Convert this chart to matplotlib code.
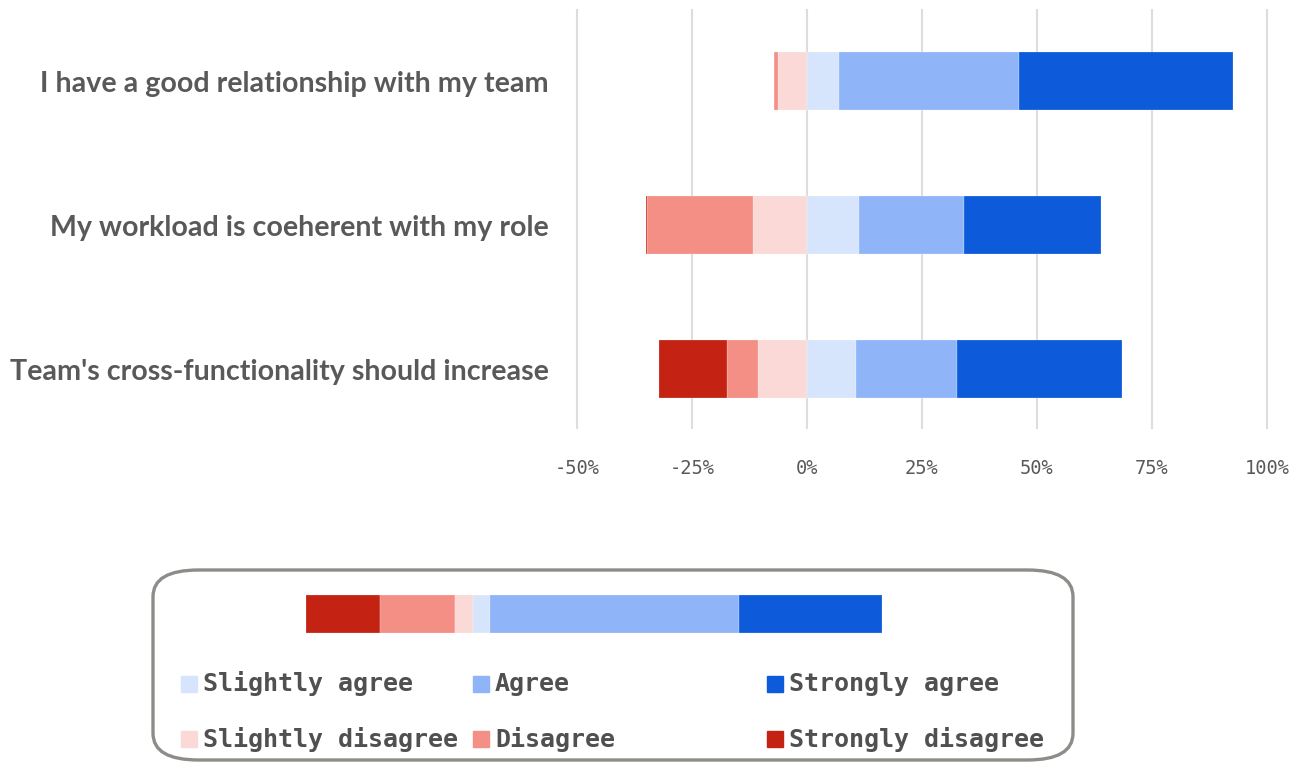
import matplotlib
matplotlib.use("Agg")
import matplotlib.pyplot as plt
from matplotlib.patches import FancyBboxPatch, Rectangle
from matplotlib.ticker import FuncFormatter

questions = [
    "I have a good relationship with my team",
    "My workload is coeherent with my role",
    "Team's cross-functionality should increase",
]
levels = ["Strongly disagree", "Disagree", "Slightly disagree",
          "Slightly agree", "Agree", "Strongly agree"]
colors = ["#C42314", "#F48F86", "#FAD9D6", "#D6E5FC", "#8FB5F8", "#0D5BDB"]

# share of answers per question (%)
strongly_disagree = [0.0, 0.4, 14.7]
disagree = [0.9, 23.0, 6.7]
slightly_disagree = [6.3, 11.7, 10.7]
slightly_agree = [6.9, 11.3, 10.7]
agree = [39.1, 22.9, 21.9]
strongly_agree = [46.5, 29.8, 35.9]

# widths of the colour key strip, same level order
key_widths = [12.9, 13.0, 3.2, 2.9, 43.2, 24.9]

ticks = [-50, -25, 0, 25, 50, 75, 100]

W, H = 1302, 762


def px(x0, y0, x1, y1):
    return [x0 / W, 1 - y1 / H, (x1 - x0) / W, (y1 - y0) / H]


fig = plt.figure(figsize=(W / 100, H / 100), dpi=100)
ax = fig.add_axes(px(567.8, 9, 1276.2, 429.5))

y = list(range(len(questions)))
neg = [slightly_disagree, disagree, strongly_disagree]
pos = [slightly_agree, agree, strongly_agree]

# disagreement stacks leftwards from zero
left = [0.0] * len(questions)
for vals, col in zip(neg, colors[2::-1]):
    ax.barh(y, [-v for v in vals], left=left, height=0.4, color=col,
            edgecolor="#ffffff80", linewidth=0.3, zorder=3)
    left = [l - v for l, v in zip(left, vals)]

# agreement stacks rightwards
left = [0.0] * len(questions)
for vals, col in zip(pos, colors[3:]):
    ax.barh(y, vals, left=left, height=0.4, color=col,
            edgecolor="#ffffff80", linewidth=0.3, zorder=3)
    left = [l + v for l, v in zip(left, vals)]

ax.set_xlim(-52, 102)
ax.set_ylim(2.42, -0.5)
ax.set_xticks(ticks)
ax.xaxis.set_major_formatter(FuncFormatter(lambda v, p: f"{v:.0f}%"))
ax.grid(axis="x", color="#dddddd", linewidth=1.5, zorder=0)
for s in ax.spines.values():
    s.set_visible(False)

ax.set_yticks(y)
ax.set_yticklabels(questions, fontsize=20.6, fontweight="bold",
                   color="#595959", family="Lato")
ax.tick_params(axis="y", length=0, pad=13.5)
ax.tick_params(axis="x", length=0, pad=21, labelsize=13.5,
               labelcolor="#595959")
for t in ax.get_xticklabels():
    t.set_family("DejaVu Sans Mono")

# legend frame
frame = FancyBboxPatch((153 / W, 1 - 760 / H), (1073 - 153) / W, 190 / H,
                       boxstyle="round,pad=0,rounding_size=0.035",
                       transform=fig.transFigure, facecolor="white",
                       edgecolor="#8c8c88", linewidth=2.4, zorder=0.5)
fig.add_artist(frame)

# colour key strip
kax = fig.add_axes(px(306, 595, 882, 633))
kax.set_zorder(2)
start = 0.0
for w, col in zip(key_widths, colors):
    kax.barh(0, w, left=start, height=1, color=col, edgecolor="#ffffff80",
             linewidth=0.3)
    start += w
kax.set_xlim(0, sum(key_widths))
kax.set_ylim(-0.5, 0.5)
kax.axis("off")

# legend entries, three columns of two rows
col_x = [181, 473, 767]
row_y = [684, 739]
legend_cols = [(3, 2), (4, 1), (5, 0)]
for cx, idx in zip(col_x, legend_cols):
    for ry, i in zip(row_y, idx):
        fig.add_artist(Rectangle((cx / W, 1 - (ry + 8) / H), 16 / W, 16 / H,
                                 transform=fig.transFigure, color=colors[i],
                                 zorder=3))
        fig.text((cx + 22) / W, 1 - ry / H, levels[i], ha="left", va="center",
                 fontsize=18, fontweight="bold", color="#505050",
                 family="DejaVu Sans Mono", zorder=3)

fig.savefig("out.png", dpi=100)
